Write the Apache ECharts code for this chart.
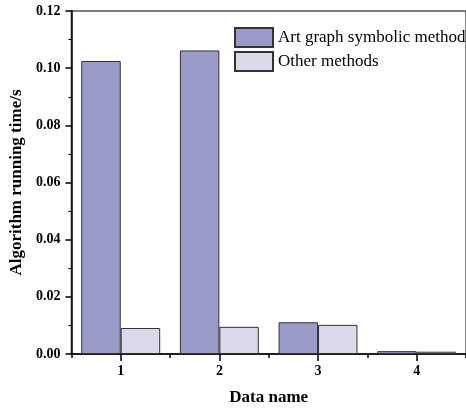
<!DOCTYPE html>
<html><head><meta charset="utf-8">
<script src="https://cdn.jsdelivr.net/npm/echarts@6/dist/echarts.min.js"></script>
<style>html,body{margin:0;padding:0;background:#fff;overflow:hidden}#c{position:absolute;left:0;top:0;width:466px;height:411px}</style>
</head><body><div id="c"></div>
<script>
const categories = ['1', '2', '3', '4'];
const artGraph = [0.1025, 0.1062, 0.0111, 0.0010];
const otherMethods = [0.0091, 0.0095, 0.0102, 0.0008];
const yTicks = [0, 0.02, 0.04, 0.06, 0.08, 0.10, 0.12];

const serif = '"Liberation Serif", "Times New Roman", serif';
const chart = echarts.init(document.getElementById('c'), null, {renderer: 'canvas', width: 466, height: 411});
chart.setOption({
  animation: false,
  grid: {left: 64, top: 11, width: 406, height: 345, show: true, borderColor: '#555', borderWidth: 1.5},
  legend: {
    left: 234, top: 27, padding: 0, orient: 'vertical', itemWidth: 38, itemHeight: 19, itemGap: 3,
    icon: 'rect',
    textStyle: {fontFamily: serif, fontSize: 17, color: '#000'},
    data: ['Art graph symbolic method', 'Other methods']
  },
  xAxis: [{
    type: 'category', data: categories,
    name: 'Data name', nameLocation: 'middle', nameGap: 35,
    nameTextStyle: {fontFamily: serif, fontSize: 17, fontWeight: 'bold', color: '#000'},
    axisLine: {lineStyle: {color: '#000', width: 1.5}},
    axisTick: {show: true, alignWithLabel: true, length: 7, lineStyle: {color: '#000', width: 1.5}},
    axisLabel: {fontFamily: serif, fontSize: 14, fontWeight: 'bold', color: '#000', margin: 10},
    splitLine: {show: false}
  }, {
    type: 'category', data: categories, position: 'bottom',
    axisLine: {show: false},
    axisTick: {show: true, alignWithLabel: false, length: 4, lineStyle: {color: '#000', width: 1.5}},
    axisLabel: {show: false}, splitLine: {show: false}
  }],
  yAxis: {
    type: 'value', min: yTicks[0], max: yTicks[yTicks.length - 1], interval: 0.02,
    name: 'Algorithm running time/s', nameLocation: 'middle', nameGap: 37,
    nameTextStyle: {fontFamily: serif, fontSize: 17, fontWeight: 'bold', color: '#000'},
    axisLine: {show: true, lineStyle: {color: '#000', width: 1.5}},
    axisTick: {show: true, length: 6, lineStyle: {color: '#000', width: 1.5}},
    minorTick: {show: true, splitNumber: 2, length: 3, lineStyle: {color: '#000', width: 1}},
    axisLabel: {fontFamily: serif, fontSize: 14, fontWeight: 'bold', color: '#000', margin: 11,
      formatter: v => v.toFixed(2)},
    splitLine: {show: false}
  },
  series: [{
    name: 'Art graph symbolic method', type: 'bar', data: artGraph,
    barGap: '0%', barCategoryGap: '20%',
    itemStyle: {color: '#9b9bc9', borderColor: '#333', borderWidth: 1}
  }, {
    name: 'Other methods', type: 'bar', data: otherMethods,
    barGap: '0%', barCategoryGap: '20%',
    itemStyle: {color: '#d9d9ea', borderColor: '#333', borderWidth: 1}
  }]
});
</script></body></html>
